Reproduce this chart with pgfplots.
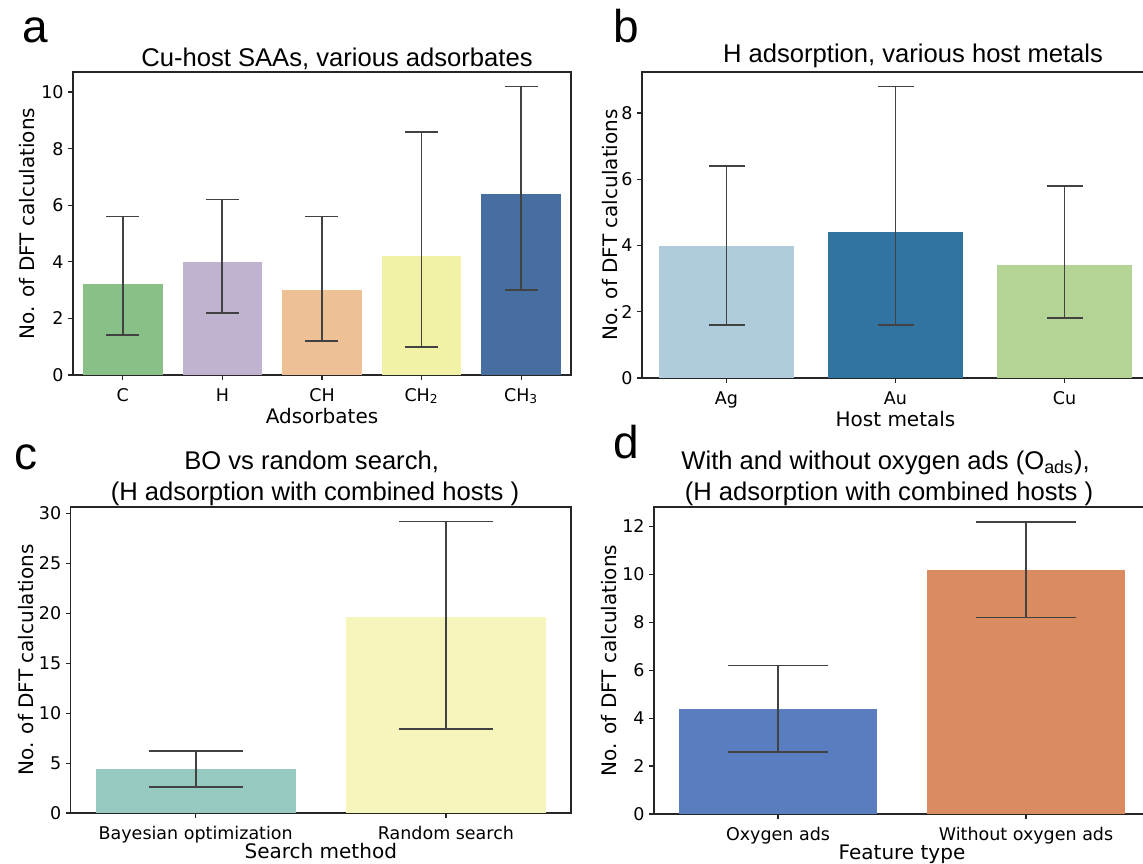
\documentclass[border=0pt]{standalone}
\usepackage{fontspec}
\setmainfont{DejaVu Sans}
\newfontfamily\arialfont{Liberation Sans}
\usepackage{pgfplots}
\pgfplotsset{compat=1.18}

% seaborn palettes, desaturated to 0.75
\definecolor{aC}{HTML}{88C088}
\definecolor{aH}{HTML}{BFB3CF}
\definecolor{aCH}{HTML}{EEC095}
\definecolor{aCHt}{HTML}{F2F2A6}
\definecolor{aCHd}{HTML}{476EA1}
\definecolor{bAg}{HTML}{AECCDB}
\definecolor{bAu}{HTML}{3274A1}
\definecolor{bCu}{HTML}{B3D495}
\definecolor{cBO}{HTML}{96CAC1}
\definecolor{cRS}{HTML}{F5F5BC}
\definecolor{dO}{HTML}{597DBF}
\definecolor{dW}{HTML}{DA8B5F}
\definecolor{axgray}{HTML}{262626}
\definecolor{errgray}{HTML}{424242}

\pgfplotsset{
  panel/.style={
    scale only axis, anchor=south west, ymin=0,
    tick pos=left, tick align=outside, major tick length=2.5pt,
    tick style={draw=axgray, line width=0.6pt},
    axis line style={draw=axgray, line width=0.6pt},
    ticklabel style={font=\fontsize{8.75}{10}\selectfont},
    /pgf/number format/assume math mode=true,
    yticklabel style={inner sep=0pt, xshift=-2pt},
    xticklabel style={inner sep=0pt, anchor=base, yshift=-10.5pt},
    error bars/y dir=both, error bars/y explicit,
    error bars/error bar style={draw=errgray, line width=0.9pt},
  },
  xlab/.style={every axis x label/.style={at={(axis description cs:0.5,0)}, yshift=-#1,
      anchor=base, inner sep=0pt, font=\fontsize{10}{12}\selectfont}},
  ylab/.style={every axis y label/.style={at={(axis description cs:0,0.5)},
      xshift=-#1, rotate=90, anchor=base, inner sep=0pt,
      font=\fontsize{10}{12}\selectfont}},
  cap/.style={error bars/error mark options={rotate=90, draw=errgray, line width=0.9pt, mark size=#1}},
  b/.style={ybar, bar width=0.8, bar shift=0pt, draw=none, fill=#1},
}

\begin{document}
\begin{tikzpicture}
\useasboundingbox (0,0) rectangle (571.5pt,431.5pt);
\clip (0,0) rectangle (571.5pt,431.5pt);

% panel a
\begin{axis}[panel, xlab=24pt, ylab=19pt, cap=8.25pt,
  at={(36.5pt,244pt)}, width=249pt, height=151.5pt,
  xmin=-0.5, xmax=4.5, ymax=10.71,
  xtick={0,1,2,3,4}, xticklabels={C,H,CH,CH\textsubscript{2},CH\textsubscript{3}},
  ytick={0,2,4,6,8,10},
  xlabel={Adsorbates}, ylabel={No. of DFT calculations}]
\addplot[b=aC]   coordinates {(0,3.2) += (0,2.4) -= (0,1.8)};
\addplot[b=aH]   coordinates {(1,4.0) += (0,2.2) -= (0,1.8)};
\addplot[b=aCH]  coordinates {(2,3.0) += (0,2.6) -= (0,1.8)};
\addplot[b=aCHt] coordinates {(3,4.2) += (0,4.4) -= (0,3.2)};
\addplot[b=aCHd] coordinates {(4,6.4) += (0,3.8) -= (0,3.4)};
\end{axis}

% panel b
\begin{axis}[panel, xlab=24pt, ylab=12.5pt, cap=9pt,
  at={(321pt,242.5pt)}, width=253.5pt, height=153pt,
  xmin=-0.5, xmax=2.5, ymax=9.24,
  xtick={0,1,2}, xticklabels={Ag,Au,Cu},
  ytick={0,2,4,6,8},
  xlabel={Host metals}, ylabel={No. of DFT calculations}]
\addplot[b=bAg] coordinates {(0,4.0) += (0,2.4) -= (0,2.4)};
\addplot[b=bAu] coordinates {(1,4.4) += (0,4.4) -= (0,2.8)};
\addplot[b=bCu] coordinates {(2,3.4) += (0,2.4) -= (0,1.6)};
\end{axis}

% panel c
\begin{axis}[panel, xlab=22.5pt, ylab=18.5pt, cap=23.5pt,
  at={(35.3pt,25pt)}, width=250.2pt, height=153pt,
  xmin=-0.5, xmax=1.5, ymax=30.66,
  xtick={0,1}, xticklabels={Bayesian optimization,Random search},
  ytick={0,5,10,15,20,25,30},
  xlabel={Search method}, ylabel={No. of DFT calculations}]
\addplot[b=cBO] coordinates {(0,4.4) += (0,1.8) -= (0,1.8)};
\addplot[b=cRS] coordinates {(1,19.6) += (0,9.6) -= (0,11.2)};
\end{axis}

% panel d
\begin{axis}[panel, xlab=22.5pt, ylab=19pt, cap=25pt,
  at={(327pt,24.5pt)}, width=248pt, height=153.5pt,
  xmin=-0.5, xmax=1.5, ymax=12.81,
  xtick={0,1}, xticklabels={Oxygen ads,Without oxygen ads},
  ytick={0,2,4,6,8,10,12},
  xlabel={Feature type}, ylabel={No. of DFT calculations}]
\addplot[b=dO] coordinates {(0,4.4) += (0,1.8) -= (0,1.8)};
\addplot[b=dW] coordinates {(1,10.2) += (0,2.0) -= (0,2.0)};
\end{axis}

% titles and panel letters
\begin{scope}[every node/.style={inner sep=0pt, anchor=base}]
\node[font=\arialfont\fontsize{12.8}{15}\selectfont] at (168.5pt,398pt) {Cu-host SAAs, various adsorbates};
\node[font=\arialfont\fontsize{12.8}{15}\selectfont] at (456.5pt,400pt) {H adsorption, various host metals};
\node[font=\arialfont\fontsize{12.8}{15}\selectfont] at (155.8pt,197pt) {BO vs random search,};
\node[font=\arialfont\fontsize{12.8}{15}\selectfont] at (157.5pt,181.5pt) {(H adsorption with combined hosts )};
\node[font=\arialfont\fontsize{12.8}{15}\selectfont] at (442.8pt,197pt) {With and without oxygen ads (O\textsubscript{ads}),};
\node[font=\arialfont\fontsize{12.8}{15}\selectfont] at (444.5pt,181.5pt) {(H adsorption with combined hosts )};
\node[font=\arialfont\fontsize{23}{27}\selectfont, anchor=base west] at (11pt,410pt) {a};
\node[font=\arialfont\fontsize{23}{27}\selectfont, anchor=base west] at (306.5pt,410pt) {b};
\node[font=\arialfont\fontsize{23}{27}\selectfont, anchor=base west] at (7pt,197pt) {c};
\node[font=\arialfont\fontsize{23}{27}\selectfont, anchor=base west] at (306.5pt,202.5pt) {d};
\end{scope}
\end{tikzpicture}
\end{document}
